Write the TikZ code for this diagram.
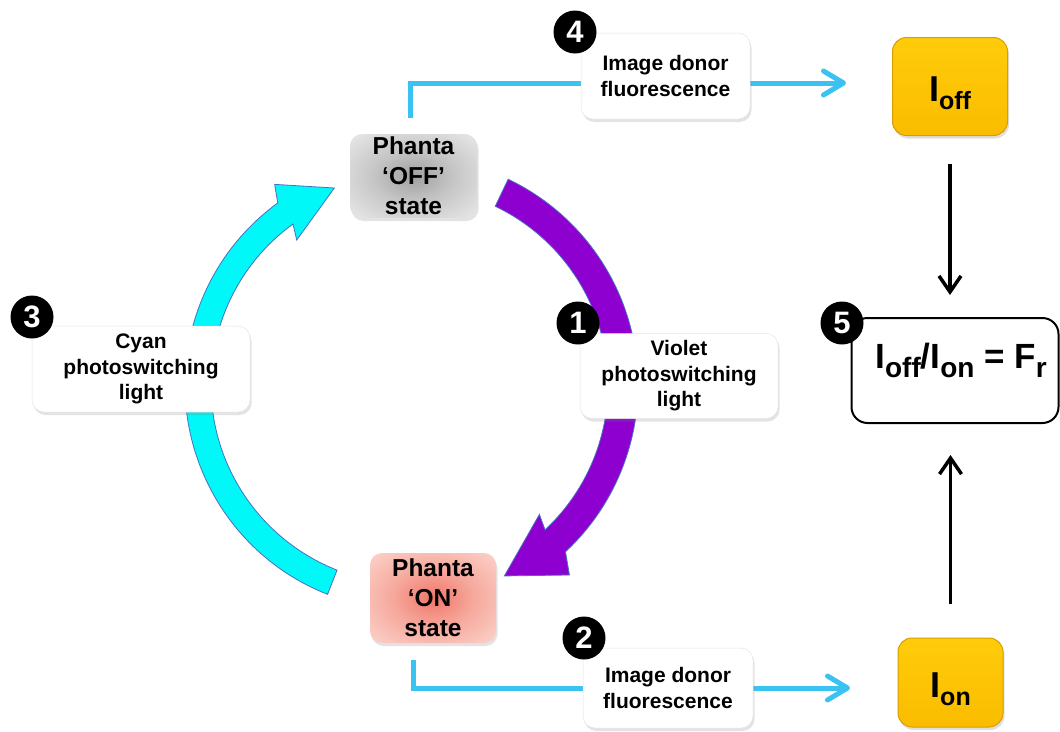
\documentclass[tikz,border=0pt]{standalone}
\usepackage{fontspec}
\setmainfont{Liberation Sans}
\usetikzlibrary{arrows.meta,shadows}
\definecolor{lineblue}{RGB}{58,194,242}
\definecolor{violetfill}{RGB}{142,0,208}
\definecolor{cyanfill}{RGB}{0,248,248}
\definecolor{arcedge}{RGB}{72,112,196}
\definecolor{goldtop}{RGB}{255,204,10}
\definecolor{goldbot}{RGB}{250,188,0}
\definecolor{goldedge}{RGB}{214,158,0}
\definecolor{graycore}{RGB}{160,160,160}
\definecolor{graymid}{RGB}{198,198,198}
\definecolor{grayrim}{RGB}{230,230,230}
\definecolor{redcore}{RGB}{240,118,104}
\definecolor{redmid}{RGB}{246,168,156}
\definecolor{redrim}{RGB}{251,208,200}
\pgfdeclareradialshading{softgray}{\pgfpoint{0bp}{0bp}}{color(0bp)=(graycore); color(16bp)=(graymid); color(34bp)=(grayrim); color(50bp)=(grayrim)}
\pgfdeclareradialshading{softred}{\pgfpoint{0bp}{0bp}}{color(0bp)=(redcore); color(16bp)=(redmid); color(34bp)=(redrim); color(50bp)=(redrim)}
\newcommand{\fsz}[2]{\fontsize{#1}{#2}\selectfont}
\newcommand{\gsub}[1]{\raisebox{-8pt}{\fsz{25}{25}#1}}
\newcommand{\rsub}[1]{\raisebox{-9pt}{\fsz{28}{28}#1}}
\begin{document}
\begin{tikzpicture}[x=1pt,y=-1pt,
  lbl/.style={rounded corners=12pt, fill=white, draw=black!10, line width=0.5pt,
    align=center, font=\bfseries\fsz{21}{25.5}, inner sep=0pt,
    drop shadow={opacity=0.22, shadow xshift=1.5pt, shadow yshift=-3pt}},
  phanta/.style={rounded corners=12pt, align=center, font=\bfseries\fsz{24.5}{30},
    inner sep=0pt, drop shadow={opacity=0.22, shadow xshift=1.5pt, shadow yshift=-3pt}},
  goldbox/.style={rounded corners=14pt, top color=goldtop, bottom color=goldbot,
    draw=goldedge, line width=1pt, inner sep=0pt, font=\bfseries\fsz{36}{36},
    text height=38pt, text depth=8pt,
    drop shadow={opacity=0.25, shadow xshift=1.5pt, shadow yshift=-3pt}},
  badge/.style={circle, fill=black, text=white, font=\bfseries\fsz{31}{31},
    minimum size=43pt, inner sep=0pt},
  blueline/.style={draw=lineblue, line width=5pt,
    -{Straight Barb[round,length=20pt,width=24pt]}},
  blackarrow/.style={draw=black, line width=3.5pt,
    -{Straight Barb[length=16pt,width=22pt]}},
  arcband/.style={line width=0.8pt, draw=arcedge, line join=miter}]
\fill[white] (0,0) rectangle (1060,731);
\useasboundingbox (0,0) rectangle (1060,731);

% circular arrows
\begin{scope}[shift={(410,385)}]
  \filldraw[arcband, fill=cyanfill]
    (248.5:225pt) arc[start angle=248.5, end angle=126, radius=225pt]
    -- (124:242pt) -- (111:211pt) -- (128:184pt) -- (126:199pt)
    arc[start angle=126, end angle=248.5, radius=199pt] -- cycle;
  \filldraw[arcband, fill=violetfill]
    (64.5:228pt) arc[start angle=64.5, end angle=-47, radius=228pt]
    -- (-50:248pt) -- (-63.7:213pt) -- (-45:183pt) -- (-47:198pt)
    arc[start angle=-47, end angle=64.5, radius=198pt] -- cycle;
\end{scope}

% blue connectors
\coordinate (offtop) at (410,118);
\coordinate (t4) at (846,83);
\coordinate (onbot) at (413,660);
\coordinate (t2) at (850,688);
\draw[blueline] (offtop) |- (t4);
\draw[blueline] (onbot) |- (t2);

% boxes
\node[phanta, shading=softgray, minimum width=127pt,
  minimum height=84pt] (off) at (413.5,176) {Phanta\\‘OFF’\\state};
\node[phanta, shading=softred, minimum width=126pt,
  minimum height=90pt] (on) at (433,598) {Phanta\\‘ON’\\state};
\node[lbl, minimum width=169pt, minimum height=86pt] (don4) at (665.5,76)
  {Image donor\\fluorescence};
\node[lbl, minimum width=170pt, minimum height=80pt] (don2) at (668,688)
  {Image donor\\fluorescence};
\node[lbl, minimum width=218pt, minimum height=86pt] (cyanlbl) at (141,369)
  {Cyan\\photoswitching\\light};
\node[lbl, minimum width=198pt, minimum height=85pt] (violbl) at (679,376)
  {Violet\\photoswitching\\light};
\node[goldbox, minimum width=115pt, minimum height=98pt] (ioff) at (950,86.5)
  {I\gsub{off}};
\node[goldbox, minimum width=105pt, minimum height=89pt] (ion) at (950.5,682.5)
  {I\gsub{on}};
\node[draw=black, line width=2pt, rounded corners=16pt, fill=white,
  minimum width=207pt, minimum height=105pt, inner sep=0pt,
  font=\bfseries\fsz{35}{35}, text height=25pt, text depth=29pt] (fr) at (955,370.5)
  {\hspace*{12pt}I\rsub{off}/I\rsub{on} = F\rsub{r}};

% black arrows
\draw[blackarrow, shorten <=27.5pt, shorten >=22pt] (ioff.south) -- (ioff.south |- fr.north);
\draw[blackarrow, shorten <=34pt, shorten >=31pt] (ion.north) -- (ion.north |- fr.south);

% badges
\node[badge] (b1) at (578,323) {1};
\node[badge] (b2) at (584,638) {2};
\node[badge] (b3) at (32,317) {3};
\node[badge] (b4) at (575,32) {4};
\node[badge] (b5) at (842,323) {5};
\end{tikzpicture}
\end{document}
